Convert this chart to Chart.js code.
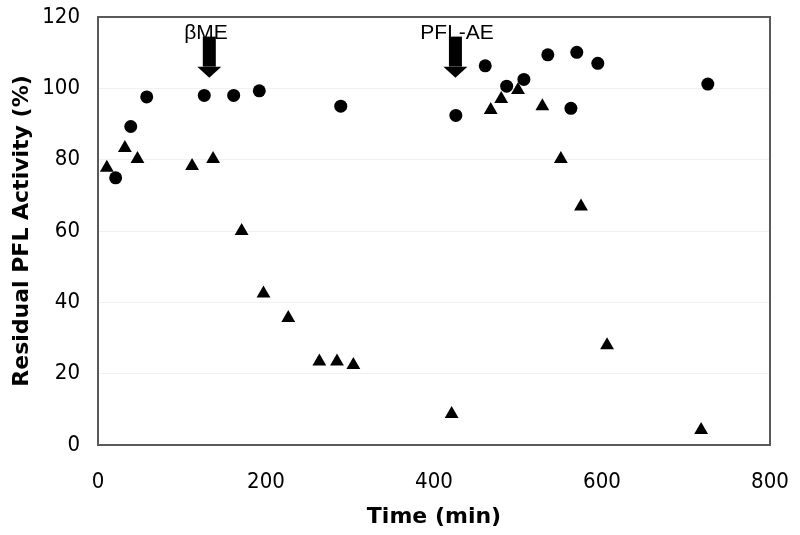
<!DOCTYPE html>
<html>
<head>
<meta charset="utf-8">
<script src="https://cdn.jsdelivr.net/npm/chart.js@4"></script>
<style>
  body { margin: 0; background: #fff; }
  #wrap { width: 800px; height: 535px; }
</style>
</head>
<body>
<div id="wrap"><canvas id="myChart"></canvas></div>
<script>
// circles
const circleX = [21, 39, 58, 126.5, 161.5, 192, 289, 426, 461, 486.5, 507, 535.5, 563, 570, 595, 726];
const circleY = [74.9, 89.3, 97.6, 98, 98, 99.3, 95, 92.4, 106.3, 100.6, 102.5, 109.4, 94.4, 110.1, 107, 101.2];
// triangles
const triX = [10.5, 32, 47, 112, 137, 171, 197, 226.5, 263.5, 284.5, 304, 421, 467.5, 480, 500, 529, 551, 575, 606, 718];
const triY = [77.7, 83.3, 80.2, 78.2, 80.2, 60, 42.5, 35.6, 23.4, 23.4, 22.4, 8.7, 93.9, 97, 99.5, 95, 80.2, 66.9, 28, 4.2];

const xTicks = [0, 200, 400, 600, 800];
const yTicks = [0, 20, 40, 60, 80, 100, 120];

// arrow annotations
const arrowLabels = ['βME', 'PFL-AE'];
const arrowX = [132.5, 425.5];
const labelX = [128.5, 427.5];
const arrowTop = 114.5;
const arrowTip = 103;
const labelY = 115.4;

const toPoints = (xs, ys) => xs.map((x, i) => ({ x: x, y: ys[i] }));

const arrows = {
  id: 'arrows',
  afterDatasetsDraw(chart) {
    const c = chart.ctx, sx = chart.scales.x, sy = chart.scales.y;
    const a = chart.chartArea;
    c.save();
    // frame
    c.strokeStyle = '#5a5a5a';
    c.lineWidth = 2;
    c.strokeRect(a.left, a.top, a.right - a.left, a.bottom - a.top);
    c.fillStyle = '#000';
    arrowX.forEach((v, i) => {
      const px = sx.getPixelForValue(v);
      const top = sy.getPixelForValue(arrowTop);
      const tip = sy.getPixelForValue(arrowTip);
      const headH = 11;
      c.fillRect(px - 6.5, top, 13, tip - headH - top);
      c.beginPath();
      c.moveTo(px - 12, tip - headH);
      c.lineTo(px + 12, tip - headH);
      c.lineTo(px, tip);
      c.closePath();
      c.fill();
    });
    c.font = '21px "Liberation Sans", Arial, sans-serif';
    c.textAlign = 'center';
    c.textBaseline = 'middle';
    arrowLabels.forEach((t, i) => {
      c.fillText(t, sx.getPixelForValue(labelX[i]), sy.getPixelForValue(labelY));
    });
    c.restore();
  }
};

const ctx = document.getElementById('myChart');

const myChart = new Chart(ctx, {
  type: 'scatter',
  data: {
    datasets: [{
      label: 'circles',
      data: toPoints(circleX, circleY),
      pointStyle: 'circle',
      pointRadius: 6.5,
      backgroundColor: '#000',
      borderColor: '#000',
      borderWidth: 0,
    }, {
      label: 'triangles',
      data: toPoints(triX, triY),
      pointStyle: 'triangle',
      pointRadius: 8,
      backgroundColor: '#000',
      borderColor: '#000',
      borderWidth: 0,
    }]
  },
  options: {
    responsive: true,
    maintainAspectRatio: false,
    animation: false,
    layout: { padding: { left: 0, right: 30, top: 17, bottom: 0 } },
    plugins: {
      legend: { display: false },
      tooltip: { enabled: false }
    },
    scales: {
      x: {
        type: 'linear',
        min: 0,
        max: 800,
        afterBuildTicks: (s) => { s.ticks = xTicks.map(v => ({ value: v })); },
        afterFit: (s) => { s.height = 90; s.paddingLeft = 0; s.paddingRight = 0; },
        grid: { display: false, drawTicks: false },
        border: { display: false },
        ticks: {
          color: '#000',
          padding: 24,
          font: { family: '"DejaVu Sans Condensed", "DejaVu Sans", sans-serif', size: 22 }
        },
        title: {
          display: true,
          text: 'Time (min)',
          color: '#000',
          padding: { top: 0, bottom: 5 },
          font: { family: '"DejaVu Sans", Verdana, sans-serif', size: 22, weight: 'bold' }
        }
      },
      y: {
        min: 0,
        max: 120,
        afterBuildTicks: (s) => { s.ticks = yTicks.map(v => ({ value: v })); },
        afterFit: (s) => { s.width = 98; s.paddingTop = 0; s.paddingBottom = 0; },
        grid: { color: '#f1f1f1', drawTicks: false },
        border: { display: false },
        ticks: {
          color: '#000',
          padding: 18,
          font: { family: '"DejaVu Sans Condensed", "DejaVu Sans", sans-serif', size: 22 }
        },
        title: {
          display: true,
          text: 'Residual PFL Activity (%)',
          color: '#000',
          padding: { top: 9, bottom: 0 },
          font: { family: '"DejaVu Sans", Verdana, sans-serif', size: 22, weight: 'bold' }
        }
      }
    }
  },
  plugins: [arrows]
});
</script>
</body>
</html>
